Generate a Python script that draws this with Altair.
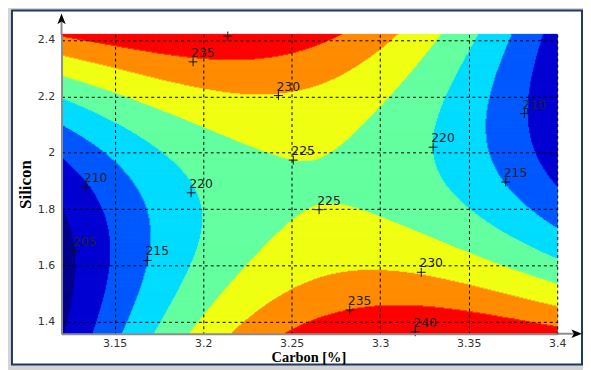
import numpy as np
import pandas as pd
import altair as alt

# ---- contour-line points: carbon [%] / silicon per level ----
c205 = [3.1197, 3.1276, 3.1265, 3.1253]
s205 = [1.787, 1.650, 1.516, 1.358]
c210 = [3.1197, 3.1337, 3.1438, 3.1494, 3.1466, 3.1438, 3.1365,
        3.3922, 3.3815, 3.3832, 3.3950, 3.4006]
s210 = [1.981, 1.879, 1.800, 1.7345, 1.646, 1.499, 1.358,
        2.421, 2.139, 2.097, 1.904, 1.868]
c215 = [3.1197, 3.1382, 3.1556, 3.1618, 3.1674, 3.1685, 3.1635, 3.1522,
        3.3753, 3.3608, 3.3709, 3.3837, 3.4006]
s215 = [2.097, 2.027, 1.963, 1.904, 1.646, 1.618, 1.481, 1.358,
        2.421, 2.097, 1.896, 1.823, 1.727]
c220 = [3.1197, 3.1556, 3.1747, 3.1859, 3.1932, 3.1960, 3.1943, 3.1859, 3.1707,
        3.3580, 3.3327, 3.3299, 3.3355, 3.3485, 3.3621, 3.3749, 3.4006]
s220 = [2.185, 2.122, 1.993, 1.928, 1.858, 1.752, 1.646, 1.499, 1.358,
        2.421, 2.097, 2.020, 1.896, 1.808, 1.738, 1.668, 1.615]
c225 = [3.1197, 3.1556, 3.1747, 3.1971, 3.2139, 3.2324, 3.2509, 3.2683, 3.2795,
        3.2980, 3.3092, 3.3361,
        3.1915, 3.2094, 3.2307, 3.2419, 3.2571, 3.2655, 3.2795, 3.2997, 3.3165,
        3.3355, 3.3540, 3.3725, 3.4006]
s225 = [2.273, 2.227, 2.150, 2.097, 2.044, 2.002, 1.974, 1.999, 2.044,
        2.135, 2.196, 2.421,
        1.358, 1.481, 1.622, 1.703, 1.773, 1.798, 1.805, 1.773, 1.738,
        1.692, 1.632, 1.587, 1.551]
c230 = [3.1197, 3.1556, 3.1859, 3.2044, 3.2234, 3.2425, 3.2604, 3.2795, 3.2980, 3.3036,
        3.2156, 3.2346, 3.2531, 3.2716, 3.2907, 3.2997, 3.3232, 3.3445, 3.3636, 3.3821,
        3.4006]
s230 = [2.344, 2.319, 2.227, 2.210, 2.196, 2.203, 2.227, 2.284, 2.351, 2.421,
        1.358, 1.435, 1.492, 1.527, 1.565, 1.580, 1.576, 1.551, 1.523, 1.492,
        1.470]
c235 = [3.1197, 3.1556, 3.1859, 3.1943, 3.2044, 3.2234, 3.2419, 3.2604, 3.2739,
        3.2459, 3.2627, 3.2812, 3.2828, 3.2997, 3.3277, 3.3557, 3.3837, 3.4000]
s235 = [2.400, 2.379, 2.330, 2.323, 2.319, 2.319, 2.351, 2.386, 2.414,
        1.358, 1.421, 1.453, 1.442, 1.463, 1.456, 1.421, 1.386, 1.368]
c240 = [3.3198, 3.3036, 3.3484, 3.2044, 3.2139]
s240 = [1.365, 1.358, 1.358, 2.419, 2.416]

levels = [205, 210, 215, 220, 225, 230, 235, 240]
level_c = [c205, c210, c215, c220, c225, c230, c235, c240]
level_s = [s205, s210, s215, s220, s225, s230, s235, s240]

# ---- contour labels ----
label_carbon = [3.1943, 3.2425, 3.2509, 3.2655, 3.1932, 3.3299, 3.1685, 3.1276,
                3.1337, 3.3815, 3.3709, 3.3232, 3.2828, 3.3198, 3.2139]
label_silicon = [2.3225, 2.2028, 1.974, 1.798, 1.858, 2.0197, 1.618, 1.650,
                 1.879, 2.139, 1.896, 1.576, 1.442, 1.365, 2.414]
label_text = ["235", "230", "225", "225", "220", "220", "215", "205",
              "210", "210", "215", "230", "235", "240", ""]

x_ticks = [3.15, 3.2, 3.25, 3.3, 3.35, 3.4]
y_ticks = [1.4, 1.5, 1.6, 1.7, 1.8, 1.9, 2.0, 2.1, 2.2, 2.3, 2.4]

band_names = ["<205", "205-210", "210-215", "215-220", "220-225",
              "225-230", "230-235", "235-240", ">240"]
band_colors = ["#00008c", "#0000d2", "#0058ff", "#00dcff", "#64ffa0",
               "#f0ff12", "#ff8c00", "#ff0000", "#960000"]

C_LO, C_HI = 3.12, 3.40
S_LO, S_HI = 1.358, 2.42

# ---- surface fitted through the read contour points ----
X = np.concatenate([np.array(c) for c in level_c])
Y = np.concatenate([np.array(s) for s in level_s])
Z = np.concatenate([np.full(len(c), float(l)) for c, l in zip(level_c, levels)])
DEG = 4


def basis(c, s):
    u = (np.asarray(c) - 3.26) / 0.14
    v = (np.asarray(s) - 1.89) / 0.53
    cols = [u ** i * v ** (d - i) for d in range(DEG + 1) for i in range(d + 1)]
    return np.stack(cols, axis=-1)


coef, *_ = np.linalg.lstsq(basis(X, Y), Z, rcond=None)

nx, ny = 500, 302
ce = np.linspace(C_LO, C_HI, nx + 1)
se = np.linspace(S_HI, S_LO, ny + 1)
cc = (ce[:-1] + ce[1:]) / 2
sc = (se[:-1] + se[1:]) / 2
CC, SS = np.meshgrid(cc, sc)
ZZ = basis(CC, SS) @ coef
band = np.clip(np.floor((ZZ - 205) / 5).astype(int) + 1, 0, 8)

rows = []
for j in range(ny):
    b = band[j]
    starts = np.r_[0, np.nonzero(np.diff(b))[0] + 1]
    ends = np.r_[starts[1:], nx]
    for a, e in zip(starts, ends):
        rows.append(dict(c0=float(ce[a]), c1=float(ce[e]), s0=float(se[j + 1]),
                         s1=float(se[j]), band=band_names[int(b[a])]))
cells = pd.DataFrame(rows)
labels = pd.DataFrame({"c": label_carbon, "s": label_silicon, "t": label_text})
one = pd.DataFrame({"k": [0]})

xscale = alt.Scale(domain=[C_LO, C_HI], nice=False, zero=False)
yscale = alt.Scale(domain=[S_LO, S_HI], nice=False, zero=False)
xaxis = alt.Axis(values=x_ticks, format=".2~f", zindex=1, titleX=249, titleY=24,
                 titleBaseline="middle", titleAlign="center", labelPadding=4,
                 labelFlush=False)
yaxis = alt.Axis(values=y_ticks, format=".1~f", zindex=1, titleX=-36, titleY=151,
                 titleAngle=270, titleBaseline="middle", titleAlign="center",
                 labelPadding=7, titleFontSize=17, labelFlush=False)
band_scale = alt.Scale(domain=band_names, range=band_colors)

frame = alt.Chart(one).mark_rect(fill="white", stroke="#1f3864", strokeWidth=2).encode(
    x=alt.value(-50), x2=alt.value(525), y=alt.value(-24), y2=alt.value(333))

contour = alt.Chart(cells).mark_rect(strokeWidth=1, opacity=1, fillOpacity=1,
                                     strokeOpacity=1).encode(
    x=alt.X("c0:Q", scale=xscale, axis=xaxis, title="Carbon [%]"),
    x2="c1:Q",
    y=alt.Y("s0:Q", scale=yscale, axis=yaxis, title="Silicon"),
    y2="s1:Q",
    fill=alt.Fill("band:N", scale=band_scale, legend=None),
    stroke=alt.Stroke("band:N", scale=band_scale, legend=None),
)

plus = alt.Chart(labels).mark_point(shape="M-1,0L1,0M0,-1L0,1", size=81, filled=False,
                                    stroke="#111", strokeWidth=1, opacity=1).encode(
    x=alt.X("c:Q", title="Carbon [%]"), y=alt.Y("s:Q", title="Silicon"))

text = alt.Chart(labels).mark_text(align="left", baseline="alphabetic", dx=-2, dy=-5,
                                   font="DejaVu Sans", fontSize=12.5, color="#222").encode(
    x=alt.X("c:Q", title="Carbon [%]"), y=alt.Y("s:Q", title="Silicon"), text="t:N")

yline = alt.Chart(one).mark_rule(color="#8c8c8c", strokeWidth=2).encode(
    x=alt.value(0), y=alt.value(-16), y2=alt.value(0))
xline = alt.Chart(one).mark_rule(color="#8c8c8c", strokeWidth=2).encode(
    x=alt.value(500), x2=alt.value(518), y=alt.value(302))
yarrow = alt.Chart(one).mark_point(shape="M0,-1L0.7,0.8L0,0.35L-0.7,0.8Z", size=144,
                                   filled=True, color="black", opacity=1).encode(
    x=alt.value(0), y=alt.value(-15))
xarrow = alt.Chart(one).mark_point(shape="M1,0L-0.8,0.7L-0.35,0L-0.8,-0.7Z", size=144,
                                   filled=True, color="black", opacity=1).encode(
    x=alt.value(519), y=alt.value(302))

chart = alt.layer(frame, contour, plus, text, yline, xline, yarrow, xarrow).properties(
    width=500, height=302, autosize="none",
    padding={"left": 54, "top": 25, "right": 26, "bottom": 35},
    background="#d4d4d4",
).configure_view(stroke="#222", strokeWidth=1).configure_axis(
    grid=True, gridColor="black", gridDash=[3, 3], gridWidth=1, gridOpacity=1,
    ticks=False, tickSize=0, domainColor="#8c8c8c", domainWidth=2,
    labelFont="DejaVu Sans", labelFontSize=11, labelColor="#333",
    titleFont="Liberation Serif", titleFontWeight="bold", titleFontSize=14.5,
    titleColor="black",
)

chart.save("out.html", embed_options={"renderer": "svg", "actions": False})
